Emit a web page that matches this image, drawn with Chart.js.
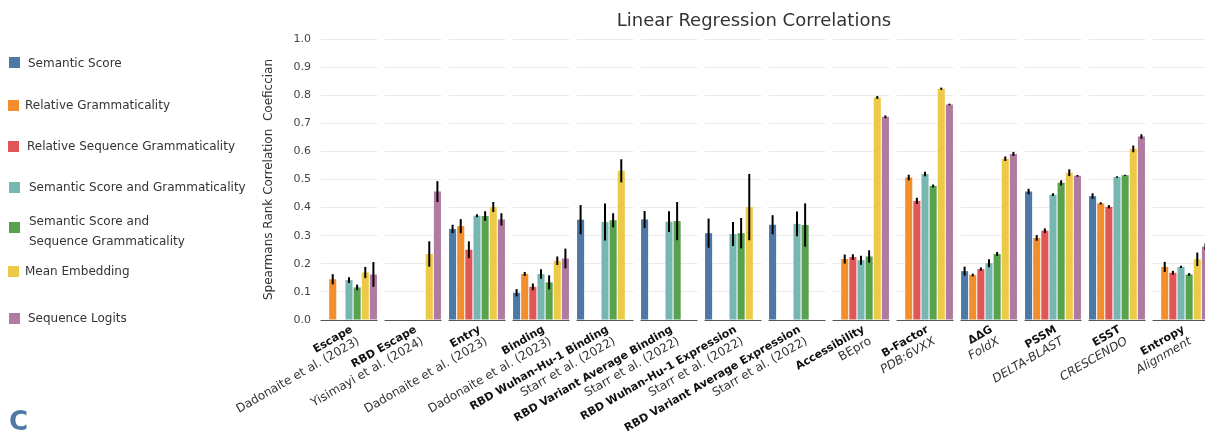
<!DOCTYPE html>
<html>
<head>
<meta charset="utf-8">
<script src="https://cdn.jsdelivr.net/npm/chart.js@4.4.1/dist/chart.umd.min.js"></script>
<style>
  body { margin: 0; width: 1205px; height: 441px; overflow: hidden; background: #fff; font-family: "DejaVu Sans", sans-serif; color: #333; position: relative; }
  #wrap { position: absolute; left: 0; top: 0; width: 1213px; height: 441px; }
  #titulo { position: absolute; top: 9px; left: 754px; transform: translateX(-50%); font-size: 18px; line-height: 22px; white-space: nowrap; color: #333; }
  .leg { position: absolute; left: 0; height: 20px; width: 260px; }
  .leg .sq { position: absolute; top: 4.5px; width: 11px; height: 11px; }
  .leg .tx { position: absolute; top: 0; font-size: 12px; line-height: 20px; white-space: nowrap; color: #333; }
  #letra { position: absolute; left: 9px; top: 408px; font-size: 26px; line-height: 26px; font-weight: bold; color: #4e79a7; }
</style>
</head>
<body>
<div id="wrap"><canvas id="grafico"></canvas></div>
<div id="titulo">Linear Regression Correlations</div>
<div id="leyenda"></div>
<div id="letra">C</div>
<script>
const categories = ["Escape", "RBD Escape", "Entry", "Binding", "RBD Wuhan-Hu-1 Binding", "RBD Variant Average Binding",
  "RBD Wuhan-Hu-1 Expression", "RBD Variant Average Expression", "Accessibility", "B-Factor", "ΔΔG", "PSSM", "ESST", "Entropy"];
const subLabels = ["Dadonaite et al. (2023)", "Yisimayi et al. (2024)", "Dadonaite et al. (2023)", "Dadonaite et al. (2023)",
  "Starr et al. (2022)", "Starr et al. (2022)", "Starr et al. (2022)", "Starr et al. (2022)",
  "BEpro", "PDB:6VXX", "FoldX", "DELTA-BLAST", "CRESCENDO", "Alignment"];
const subItalic = [false, false, false, false, false, false, false, false, false, true, true, true, true, true];

const seriesNames = ["Semantic Score", "Relative Grammaticality", "Relative Sequence Grammaticality",
  "Semantic Score and Grammaticality", "Semantic Score and Sequence Grammaticality", "Mean Embedding", "Sequence Logits"];
const seriesColors = ["#4e79a7", "#f28e2b", "#e15759", "#76b7b2", "#59a14f", "#edc948", "#b07aa1"];

// values per series, one per category (null = no bar)
const semanticScore     = [null, null, 0.324, 0.097, 0.357, 0.358, 0.309, 0.339, null, null, 0.174, 0.457, 0.441, null];
const semanticScoreErr  = [null, null, 0.015, 0.013, 0.052, 0.030, 0.052, 0.034, null, null, 0.016, 0.010, 0.010, null];
const relGram           = [0.145, null, 0.334, 0.164, null, null, null, null, 0.217, 0.507, 0.160, 0.292, 0.415, 0.189];
const relGramErr        = [0.018, null, 0.025, 0.007, null, null, null, null, 0.016, 0.010, 0.005, 0.010, 0.004, 0.018];
const relSeqGram        = [null, null, 0.250, 0.118, null, null, null, null, 0.224, 0.424, 0.181, 0.318, 0.403, 0.168];
const relSeqGramErr     = [null, null, 0.030, 0.012, null, null, null, null, 0.010, 0.011, 0.006, 0.008, 0.006, 0.007];
const semGram           = [0.142, null, 0.371, 0.164, 0.349, 0.350, 0.306, 0.342, 0.213, 0.520, 0.202, 0.446, 0.509, 0.189];
const semGramErr        = [0.010, null, 0.005, 0.017, 0.066, 0.037, 0.043, 0.044, 0.016, 0.008, 0.014, 0.005, 0.003, 0.004];
const semSeqGram        = [0.116, null, 0.370, 0.134, 0.355, 0.352, 0.309, 0.338, 0.226, 0.477, 0.235, 0.488, 0.515, 0.162];
const semSeqGramErr     = [0.010, null, 0.017, 0.025, 0.025, 0.068, 0.054, 0.077, 0.022, 0.005, 0.007, 0.009, 0.002, 0.005];
const meanEmbedding     = [0.169, 0.235, 0.402, 0.211, 0.531, null, 0.402, null, 0.792, 0.823, 0.574, 0.524, 0.609, 0.216];
const meanEmbeddingErr  = [0.020, 0.045, 0.018, 0.015, 0.041, null, 0.118, null, 0.005, 0.004, 0.008, 0.012, 0.012, 0.024];
const seqLogits         = [0.162, 0.457, 0.358, 0.219, null, null, null, null, 0.723, 0.767, 0.591, 0.513, 0.653, 0.261];
const seqLogitsErr      = [0.044, 0.037, 0.022, 0.035, null, null, null, null, 0.005, 0.003, 0.007, 0.003, 0.008, 0.012];

const seriesValues = [semanticScore, relGram, relSeqGram, semGram, semSeqGram, meanEmbedding, seqLogits];
const seriesErrors = [semanticScoreErr, relGramErr, relSeqGramErr, semGramErr, semSeqGramErr, meanEmbeddingErr, seqLogitsErr];

const yTicks = [0, 0.1, 0.2, 0.3, 0.4, 0.5, 0.6, 0.7, 0.8, 0.9, 1.0];

// legend at the left (y centre of each item)
const legendY = [62.5, 105, 146, 187, 231, 271, 318];
const legendTextX = [28, 25, 27, 29, 29, 25, 28];
const legendSqX = [9, 8, 8, 9, 9, 8, 9];

function armarLeyenda() {
    const cont = document.getElementById('leyenda');
    seriesNames.forEach((nombre, i) => {
        const item = document.createElement('div');
        item.className = 'leg';
        let texto = nombre;
        let alto = 20;
        if (i === 4) { texto = 'Semantic Score and<br>Sequence Grammaticality'; alto = 40; }
        item.style.top = (legendY[i] - alto / 2) + 'px';
        item.style.height = alto + 'px';
        item.innerHTML = `<div class="sq" style="left:${legendSqX[i]}px; top:${i === 4 ? 14.5 - 3.5 : 4.5}px; background:${seriesColors[i]}"></div>
            <div class="tx" style="left:${legendTextX[i]}px">${texto}</div>`;
        cont.appendChild(item);
    });
}

// white gaps between panels so grid and baseline look split per category
const huecos = {
    id: 'huecos',
    beforeDatasetsDraw(chart) {
        const {ctx, chartArea, scales: {x}} = chart;
        const paso = (chartArea.right - chartArea.left) / categories.length;
        const hueco = paso * (1 - 0.89) / 2;
        ctx.save();
        ctx.fillStyle = '#fff';
        for (let k = 0; k <= categories.length; k++) {
            const b = chartArea.left + k * paso;
            ctx.fillRect(b - hueco, chartArea.top - 2, hueco * 2, chartArea.bottom - chartArea.top + 4);
        }
        ctx.restore();
    }
};

// black error bars on each bar
const errores = {
    id: 'errores',
    afterDatasetsDraw(chart) {
        const {ctx, scales: {y}} = chart;
        ctx.save();
        ctx.strokeStyle = '#000';
        ctx.lineWidth = 2;
        chart.data.datasets.forEach((ds, d) => {
            const meta = chart.getDatasetMeta(d);
            seriesErrors[d].forEach((e, i) => {
                const v = seriesValues[d][i];
                if (v === null || e === null) return;
                const bar = meta.data[i];
                ctx.beginPath();
                ctx.moveTo(bar.x, y.getPixelForValue(v - e));
                ctx.lineTo(bar.x, y.getPixelForValue(v + e));
                ctx.stroke();
            });
        });
        ctx.restore();
    }
};

// two-line rotated category labels (bold name + source)
const etiquetas = {
    id: 'etiquetas',
    afterDraw(chart) {
        const {ctx, chartArea, scales: {x}} = chart;
        ctx.save();
        categories.forEach((cat, i) => {
            const px = x.getPixelForValue(i);
            ctx.save();
            ctx.translate(px, chartArea.bottom + 4);
            ctx.rotate(-Math.PI / 6);
            ctx.textAlign = 'right';
            ctx.textBaseline = 'top';
            ctx.fillStyle = '#111';
            ctx.font = 'bold 11px "DejaVu Sans"';
            ctx.fillText(cat, 0, 0);
            ctx.fillStyle = '#333';
            ctx.font = (subItalic[i] ? 'italic ' : '') + '12px "DejaVu Sans"';
            ctx.fillText(subLabels[i], 0, 13);
            ctx.restore();
        });
        ctx.restore();
    }
};

armarLeyenda();

const miGrafica = new Chart(document.getElementById('grafico'), {
    type: 'bar',
    data: {
        labels: categories,
        datasets: seriesNames.map((nombre, i) => ({
            label: nombre,
            data: seriesValues[i],
            backgroundColor: seriesColors[i],
            borderWidth: 0,
            categoryPercentage: 0.89,
            barPercentage: 0.87
        }))
    },
    options: {
        responsive: true,
        maintainAspectRatio: false,
        animation: false,
        layout: { padding: { left: 258, top: 39, right: 0, bottom: 121 } },
        plugins: { legend: { display: false }, tooltip: { enabled: false }, title: { display: false } },
        scales: {
            x: {
                grid: { display: false },
                border: { display: true, color: '#555', width: 1 },
                ticks: { display: false },
                afterFit: s => { s.height = 0; }
            },
            y: {
                min: 0, max: 1,
                afterFit: s => { s.width = 59; },
                afterBuildTicks: s => { s.ticks = yTicks.map(v => ({ value: v })); },
                grid: { color: '#ebebeb', tickColor: '#444', tickLength: 3, lineWidth: 1 },
                border: { display: false },
                ticks: { padding: 3, color: '#444', font: { family: 'DejaVu Sans', size: 11 }, callback: v => v.toFixed(1) },
                title: { display: true, text: 'Spearmans Rank Correlation  Coeficcian', color: '#333',
                         font: { family: 'DejaVu Sans', size: 12 } }
            }
        }
    },
    plugins: [huecos, errores, etiquetas]
});
</script>
</body>
</html>
